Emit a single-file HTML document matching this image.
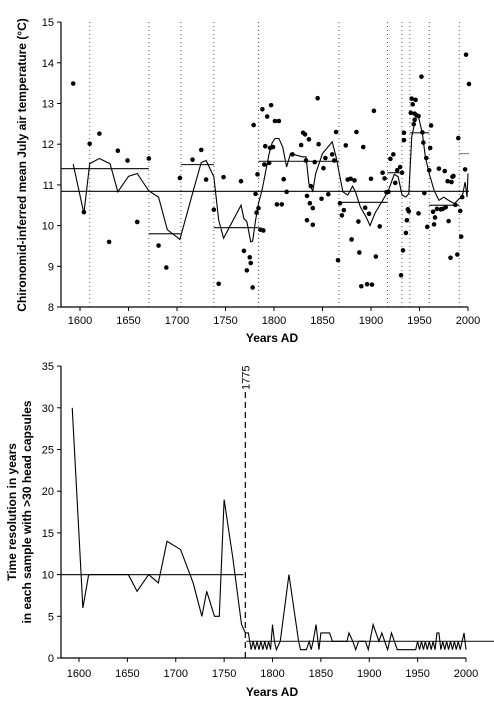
<!DOCTYPE html>
<html><head><meta charset="utf-8"><style>
body{margin:0;background:#fff;}
svg{display:block;font-family:"Liberation Sans",Arial,sans-serif;}
</style></head><body>
<svg id="c" width="494" height="701" xmlns="http://www.w3.org/2000/svg">
<g id="topPanel"></g>
<g id="botPanel"></g>
<text x="0" y="0" transform="translate(26,165) rotate(-90)" text-anchor="middle" font-size="12" font-weight="bold">Chironomid-inferred mean July air temperature (°C)</text>
<text x="272" y="342" text-anchor="middle" font-size="12" font-weight="bold">Years AD</text>
<text transform="translate(16,512) rotate(-90)" text-anchor="middle" font-size="12" font-weight="bold">Time resolution in years</text>
<text transform="translate(31,512) rotate(-90)" text-anchor="middle" font-size="12" font-weight="bold">in each sample with &gt;30 head capsules</text>
<text x="272" y="696" text-anchor="middle" font-size="12" font-weight="bold">Years AD</text>
</svg>
<script>
// ---- top panel data ----
const dotYears=[1593,1604,1610,1620,1630,1639,1649,1659,1671,1681,1689,1703,1716,1725,1730,1738,1743,1748,1766,1769,1772,1775,1776,1778,1779,1781,1782,1783,1784,1786,1789,1788,1790,1791,1793,1795,1796,1797,1801,1803,1799,1805,1810,1813,1808,1819,1828,1830,1832,1833,1834,1834,1836,1837,1838,1840,1840,1842,1845,1846,1849,1851,1853,1856,1860,1862,1864,1866,1868,1870,1872,1874,1876,1879,1880,1883,1885,1887,1888,1890,1892,1894,1896,1898,1900,1901,1903,1905,1909,1912,1914,1916,1918,1920,1923,1925,1927,1930,1931,1932,1933,1934,1934,1936,1937,1938,1939,1941,1942,1943,1944,1945,1945,1946,1947,1949,1949,1952,1953,1954,1955,1957,1958,1960,1961,1962,1964,1965,1966,1968,1970,1972,1974,1976,1977,1979,1980,1982,1983,1984,1985,1987,1989,1990,1992,1993,1994,1997,1998,2001];
const dotTemps=[13.49,10.33,12.01,12.26,9.6,11.84,11.6,10.09,11.65,9.51,8.97,11.17,11.62,11.86,11.13,10.39,8.57,11.19,11.09,9.38,8.9,9.22,9.08,8.48,12.47,10.78,10.32,11.26,10.43,9.9,9.88,12.86,11.5,11.95,12.68,11.54,11.91,12.96,12.57,10.52,11.93,12.57,11.14,10.83,10.52,11.75,11.98,12.28,12.24,11.6,10.73,10.13,12.12,10.55,10.97,10.43,10.02,11.56,13.13,12.0,10.66,11.41,11.66,10.77,11.75,11.6,12.3,9.15,10.55,10.25,10.38,11.97,11.13,11.15,9.66,11.11,12.3,10.1,9.34,8.51,11.93,10.44,8.56,10.29,11.15,8.55,12.82,9.24,9.98,11.3,11.16,10.82,10.83,11.64,11.75,11.05,11.36,11.44,8.78,11.3,9.39,12.1,12.28,9.82,10.13,10.4,10.35,12.77,13.12,12.98,12.49,12.6,12.75,13.09,12.71,12.69,10.3,13.66,12.29,12.04,10.8,11.66,9.97,11.36,11.91,12.46,10.34,10.03,10.2,10.41,11.4,10.4,10.41,11.34,10.45,11.09,10.11,9.21,11.07,11.2,11.22,10.51,9.29,12.15,10.36,9.73,10.7,11.38,14.2,13.48];
const smoothYears=[1593,1604,1610,1620,1631,1639,1650,1659,1671,1681,1690,1703,1716,1725,1730,1738,1743,1748,1766,1769,1772,1776,1778,1781,1784,1788,1791,1795,1798,1801,1805,1809,1813,1817,1829,1833,1836,1840,1843,1850,1860,1864,1871,1876,1881,1884,1889,1895,1899,1904,1912,1918,1924,1928,1932,1936,1939,1942,1947,1949,1953,1956,1960,1965,1970,1975,1980,1986,1991,1994,1996,1997,1999,2000];
const smoothTemps=[11.51,10.3,11.52,11.65,11.52,10.83,11.21,11.28,10.85,10.7,9.9,9.66,10.79,11.55,11.6,11.2,10.13,9.69,10.5,10.17,10.1,9.6,9.62,10.13,10.54,10.91,11.28,11.77,12.03,12.14,12.14,11.93,11.44,11.77,11.69,11.69,11.03,10.85,11.28,11.77,12.06,11.69,10.83,10.75,10.97,10.83,10.46,10.21,10.0,10.3,10.62,10.87,11.26,11.2,10.75,10.7,10.79,12.18,12.75,12.67,12.26,11.69,11.28,10.87,10.62,10.7,10.62,10.54,10.66,10.7,10.95,11.07,10.7,11.28];
const zoneBounds=[1610,1671,1704,1738,1784,1867,1917,1932,1940,1960,1991];
const segStart=[1580,1671,1704,1738,1784,1867,1917,1940,1960,1991];
const segEnd=[1671,1704,1738,1784,1867,1917,1932,1960,1991,2001];
const segMean=[11.4,9.8,11.5,9.95,11.58,10.57,11.3,12.28,10.5,11.77];
const overallMean=10.84;
const topYTicks=[8,9,10,11,12,13,14,15];
const xTicks=[1600,1650,1700,1750,1800,1850,1900,1950,2000];
// ---- bottom panel data ----
const resYears=[1593,1604,1610,1651,1660,1672,1682,1691,1705,1718,1727,1732,1740,1745,1750,1759,1768,1772,1775,1778,1780,1782,1784,1786,1788,1790,1792,1794,1796,1798,1800,1802,1804,1808,1817,1827,1829,1835,1838,1840,1842,1845,1848,1850,1859,1862,1877,1879,1883,1886,1889,1896,1899,1904,1910,1913,1916,1919,1923,1929,1948,1950,1952,1954,1956,1958,1960,1962,1964,1966,1968,1970,1972,1974,1976,1978,1980,1982,1984,1986,1988,1990,1992,1994,1996,1998,2000];
const resValues=[30,6,10,10,8,10,9,14,13,9,5,8,5,5,19,12,4,3,3,1,2,1,2,1,2,1,2,1,2,1,4,2,1,2,10,2,1,1,2,1,2,4,1,3,3,2,2,3,2,1,2,2,1,4,2,3,2,1,3,1,1,2,1,2,1,2,1,2,1,2,1,3,3,1,2,1,2,1,2,1,2,1,2,1,2,3,1];
const resMeanStart=[1580,1773],resMeanEnd=[1770,2030],resMean=[10,2];
const botYTicks=[0,5,10,15,20,25,30,35];
const cutYear=1775;

const NS="http://www.w3.org/2000/svg";
function mk(parent,tag,attrs){const e=document.createElementNS(NS,tag);for(const k in attrs)e.setAttribute(k,attrs[k]);parent.appendChild(e);return e;}
const tX=y=>80+(y-1600)*0.97, tY=v=>307-(v-8)*40.7;
const bX=y=>79+(y-1600)*0.9675, bY=v=>658-v*8.34;
const topG=document.getElementById('topPanel'), botG=document.getElementById('botPanel');

zoneBounds.forEach(z=>{const l=mk(topG,'line',{x1:tX(z),x2:tX(z),y1:22,y2:307,stroke:'#555','stroke-width':1,'stroke-dasharray':'1,3'});

});
let a=mk(topG,'path',{d:`M61,22V307H468`,fill:'none',stroke:'#000','stroke-width':1.2});


topYTicks.forEach(v=>{mk(topG,'line',{x1:57,x2:61,y1:tY(v),y2:tY(v),stroke:'#000'});
const t=mk(topG,'text',{x:54,y:tY(v)+4,'text-anchor':'end','font-size':11});t.textContent=v;

});
xTicks.forEach(v=>{mk(topG,'line',{x1:tX(v),x2:tX(v),y1:307,y2:311,stroke:'#000'});
const t=mk(topG,'text',{x:tX(v),y:324,'text-anchor':'middle','font-size':11});t.textContent=v;

});
let om=mk(topG,'line',{x1:61,x2:tX(2001),y1:tY(overallMean),y2:tY(overallMean),stroke:'#222','stroke-width':1.2});


segStart.forEach((s,i)=>{const l=mk(topG,'line',{x1:Math.max(61,tX(s)),x2:tX(segEnd[i]),y1:tY(segMean[i]),y2:tY(segMean[i]),stroke:i==segMean.length-1?'#888':'#222','stroke-width':1.2});

});
let sp=mk(topG,'polyline',{points:smoothYears.map((y,i)=>tX(y)+','+tY(smoothTemps[i])).join(' '),fill:'none',stroke:'#000','stroke-width':1.1});


dotYears.forEach((y,i)=>{const c=mk(topG,'circle',{cx:tX(y),cy:tY(dotTemps[i]),r:2.3,fill:'#000'});

});

let b=mk(botG,'path',{d:`M61,366V658H466`,fill:'none',stroke:'#000','stroke-width':1.2});


botYTicks.forEach(v=>{mk(botG,'line',{x1:57,x2:61,y1:bY(v),y2:bY(v),stroke:'#000'});
const t=mk(botG,'text',{x:54,y:bY(v)+4,'text-anchor':'end','font-size':11});t.textContent=v;

});
xTicks.forEach(v=>{mk(botG,'line',{x1:bX(v),x2:bX(v),y1:658,y2:662,stroke:'#000'});
const t=mk(botG,'text',{x:bX(v),y:677,'text-anchor':'middle','font-size':11});t.textContent=v;

});
resMean.forEach((m,i)=>{const l=mk(botG,'line',{x1:Math.max(61,bX(resMeanStart[i])),x2:Math.min(494,bX(resMeanEnd[i])),y1:bY(m),y2:bY(m),stroke:'#222','stroke-width':1.2});

});
const cutX=bX(cutYear)-3;
let cl=mk(botG,'line',{x1:cutX,x2:cutX,y1:392,y2:658,stroke:'#000','stroke-width':1.2,'stroke-dasharray':'6,4'});


let ct=mk(botG,'text',{transform:`translate(${cutX+4},390) rotate(-90)`,'font-size':11});ct.textContent='1775';


let rl=mk(botG,'polyline',{points:resYears.map((y,i)=>bX(y)+','+bY(resValues[i])).join(' '),fill:'none',stroke:'#000','stroke-width':1.1});


</script>
</body></html>
